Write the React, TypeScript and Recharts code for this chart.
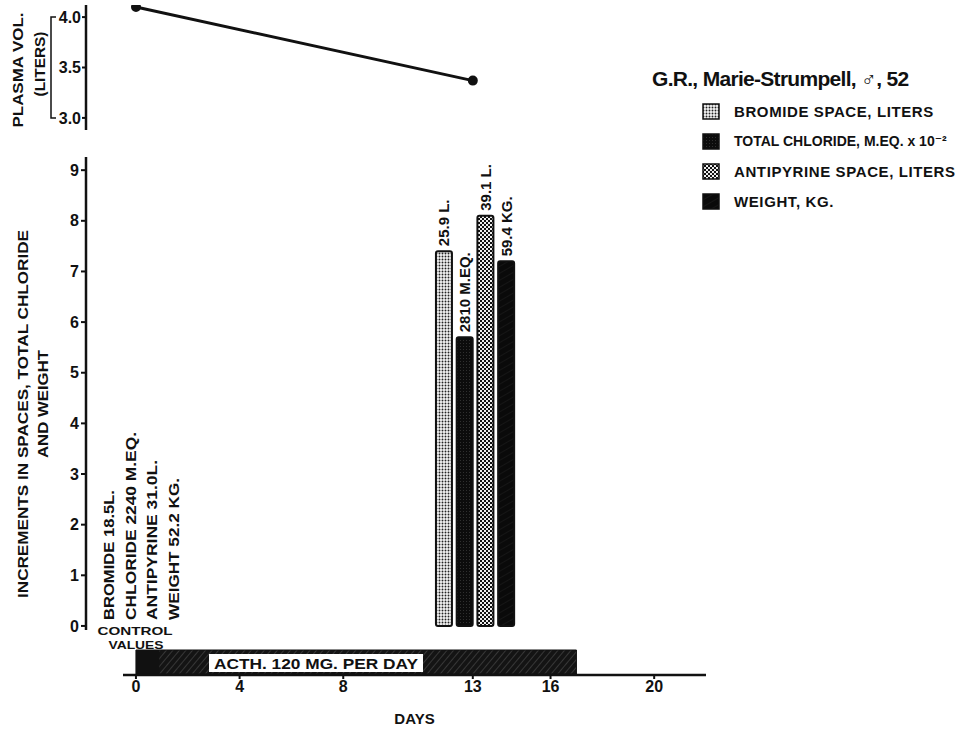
import React from "react";
import {
  ComposedChart,
  LineChart,
  Line,
  Bar,
  Cell,
  XAxis,
  YAxis,
  LabelList,
  Legend,
  ReferenceArea,
} from "recharts";

const FONT = '"Liberation Sans", "DejaVu Sans", Arial, sans-serif';
const INK = "#111";

// plasma volume, top panel
const plasmaDays = [0, 13];
const plasmaLiters = [4.1, 3.37];
const plasmaTicks = [3.0, 3.5, 4.0];

// increments over control values, day 13
const seriesNames = [
  "BROMIDE SPACE, LITERS",
  "TOTAL CHLORIDE, M.EQ. x 10⁻²",
  "ANTIPYRINE SPACE, LITERS",
  "WEIGHT, KG.",
];
const barDays = [11.9, 12.7, 13.5, 14.3];
const increments = [7.4, 5.7, 8.1, 7.2];
const valueLabels = ["25.9 L.", "2810 M.EQ.", "39.1 L.", "59.4 KG."];
const incrementTicks = [0, 1, 2, 3, 4, 5, 6, 7, 8, 9];

// control values
const controlLabels = ["BROMIDE 18.5L.", "CHLORIDE 2240 M.EQ.", "ANTIPYRINE 31.0L.", "WEIGHT 52.2 KG."];

// treatment timeline
const dayTicks = [0, 4, 8, 13, 16, 20];
const acthDays = [0, 17];
const acthSolidTo = 0.9;
const acthLabel = "ACTH. 120 MG. PER DAY";

const PATTERNS = ["pat-bromide", "pat-chloride", "pat-antipyrine", "pat-weight"];
const DAY_DOMAIN: [number, number] = [-1.93, 22];

const plasmaData = plasmaDays.map((day, i) => ({ day, liters: plasmaLiters[i] }));
const barData = barDays.map((day, i) => ({ day, value: increments[i], label: valueLabels[i] }));
const acthData = acthDays.map((day) => ({ day, on: 1 }));

const tickStyle = { fill: INK, fontSize: 16, fontWeight: 700, fontFamily: FONT };

function PatternDefs() {
  return (
    <defs>
      <pattern id="pat-bromide" width="3" height="3" patternUnits="userSpaceOnUse">
        <rect width="3" height="3" fill="#f4f4f4" />
        <circle cx="1.5" cy="1.5" r="0.95" fill="#222" />
      </pattern>
      <pattern id="pat-chloride" width="3" height="3" patternUnits="userSpaceOnUse">
        <rect width="3" height="3" fill="#0c0c0c" />
        <circle cx="1.5" cy="1.5" r="0.5" fill="#3a3a3a" />
      </pattern>
      <pattern id="pat-antipyrine" width="4" height="4" patternUnits="userSpaceOnUse">
        <rect width="4" height="4" fill="#eee" />
        <rect width="2" height="2" fill="#111" />
        <rect x="2" y="2" width="2" height="2" fill="#111" />
      </pattern>
      <pattern id="pat-weight" width="6" height="6" patternUnits="userSpaceOnUse" patternTransform="rotate(60)">
        <rect width="6" height="6" fill="#0a0a0a" />
        <line x1="0" y1="0" x2="0" y2="6" stroke="#222" strokeWidth="1" />
      </pattern>
      <pattern id="pat-acth" width="5" height="5" patternUnits="userSpaceOnUse" patternTransform="rotate(40)">
        <rect width="5" height="5" fill="#141414" />
        <line x1="0" y1="0" x2="0" y2="5" stroke="#5a5a5a" strokeWidth="1" />
      </pattern>
    </defs>
  );
}

function LegendBox() {
  return (
    <div style={{ fontFamily: FONT, color: INK }}>
      <div
        style={{
          fontSize: 21,
          fontWeight: 700,
          letterSpacing: -0.7,
          height: 34,
          lineHeight: "34px",
          whiteSpace: "nowrap",
        }}
      >
        G.R., Marie-Strumpell, ♂, 52
      </div>
      {seriesNames.map((name, i) => (
        <div key={name} style={{ display: "flex", alignItems: "center", height: 30, marginLeft: 50 }}>
          <svg width={18} height={17} style={{ flexShrink: 0 }}>
            <rect x={1} y={1} width={16} height={15} fill={`url(#${PATTERNS[i]})`} stroke={INK} strokeWidth={1.5} />
          </svg>
          <span
            style={{
              marginLeft: 14,
              fontSize: name.length > 25 ? 14 : 15,
              fontWeight: 700,
              letterSpacing: name.length > 25 ? 0 : 0.6,
              whiteSpace: "nowrap",
            }}
          >
            {name}
          </span>
        </div>
      ))}
    </div>
  );
}

const renderValueLabel = (props: any) => {
  const { x, y, width, value } = props;
  const cx = Number(x) + Number(width) / 2;
  const ty = Number(y) - 5;
  return (
    <text
      x={cx}
      y={ty}
      transform={`rotate(-90 ${cx} ${ty})`}
      textAnchor="start"
      dominantBaseline="central"
      fill={INK}
      fontSize={15}
      fontWeight={700}
      fontFamily={FONT}
    >
      {value}
    </text>
  );
};

export default function App() {
  const colX = [109, 131, 152, 174];
  const colLen = [130, 188, 160, 142];
  return (
    <div style={{ position: "absolute", left: 0, top: 0, width: 972, height: 732, background: "#fff" }}>
      <div style={{ position: "absolute", left: 0, top: 0 }}>
        <ComposedChart width={972} height={640} data={barData} margin={{ top: 157, right: 266, bottom: 10, left: 0 }}>
          <PatternDefs />
          <XAxis dataKey="day" type="number" domain={DAY_DOMAIN} hide allowDataOverflow />
          <YAxis
            type="number"
            domain={[-0.08, 9.26]}
            ticks={incrementTicks}
            interval={0}
            width={86}
            allowDataOverflow
            axisLine={{ stroke: INK, strokeWidth: 2.5 }}
            tickLine={{ stroke: INK, strokeWidth: 2 }}
            tickSize={5}
            tickMargin={2}
            tick={tickStyle}
          />
          <Legend
            layout="vertical"
            align="center"
            verticalAlign="middle"
            wrapperStyle={{ left: 652, top: 62, width: 320 }}
            content={() => <LegendBox />}
          />
          <Bar dataKey="value" barSize={16} radius={2} isAnimationActive={false}>
            {barData.map((d, i) => (
              <Cell key={d.label} fill={`url(#${PATTERNS[i]})`} stroke={INK} strokeWidth={2} />
            ))}
            <LabelList dataKey="label" content={renderValueLabel} />
          </Bar>
        </ComposedChart>
      </div>

      <div style={{ position: "absolute", left: 0, top: 0 }}>
        <LineChart width={972} height={140} data={plasmaData} margin={{ top: 5, right: 266, bottom: 10, left: 0 }}>
          <XAxis dataKey="day" type="number" domain={DAY_DOMAIN} hide allowDataOverflow />
          <YAxis
            type="number"
            domain={[2.88, 4.12]}
            ticks={plasmaTicks}
            interval={0}
            width={86}
            allowDataOverflow
            axisLine={{ stroke: INK, strokeWidth: 2.5 }}
            tickLine={{ stroke: INK, strokeWidth: 2 }}
            tickSize={4}
            tickMargin={1}
            tick={tickStyle}
            tickFormatter={(v: number) => v.toFixed(1)}
          />
          <Line
            dataKey="liters"
            stroke={INK}
            strokeWidth={3}
            dot={{ r: 3.5, fill: INK, stroke: INK }}
            isAnimationActive={false}
          />
        </LineChart>
      </div>

      <div style={{ position: "absolute", left: 0, top: 630 }}>
        <ComposedChart width={972} height={102} data={acthData} margin={{ top: 20, right: 266, bottom: 0, left: 123 }}>
          <XAxis
            dataKey="day"
            type="number"
            domain={[-0.5, 22]}
            ticks={dayTicks}
            interval={0}
            height={57}
            allowDataOverflow
            axisLine={{ stroke: INK, strokeWidth: 2.5 }}
            tickLine={{ stroke: INK, strokeWidth: 2 }}
            tickSize={4}
            tickMargin={2}
            tick={tickStyle}
            label={{ value: "DAYS", position: "insideBottom", offset: 8, fill: INK, fontSize: 15, fontWeight: 700, fontFamily: FONT }}
          />
          <YAxis hide type="number" domain={[0, 1]} allowDataOverflow />
          <Line dataKey="on" stroke="none" dot={false} isAnimationActive={false} />
          <ReferenceArea
            x1={acthDays[0]}
            x2={acthDays[1]}
            y1={0.04}
            y2={1}
            fill="url(#pat-acth)"
            fillOpacity={1}
            stroke={INK}
            strokeWidth={1}
            ifOverflow="visible"
          />
          <ReferenceArea x1={acthDays[0]} x2={acthSolidTo} y1={0.04} y2={1} fill={INK} fillOpacity={1} ifOverflow="visible" />
        </ComposedChart>
      </div>

      <svg
        width={972}
        height={732}
        style={{ position: "absolute", left: 0, top: 0, pointerEvents: "none" }}
        fontFamily={FONT}
        fontWeight={700}
        fill={INK}
      >
        <text transform="translate(22 414) rotate(-90)" textAnchor="middle" dominantBaseline="central" fontSize={15} textLength={368} lengthAdjust="spacingAndGlyphs">
          INCREMENTS IN SPACES, TOTAL CHLORIDE
        </text>
        <text transform="translate(42 404) rotate(-90)" textAnchor="middle" dominantBaseline="central" fontSize={15} textLength={108} lengthAdjust="spacingAndGlyphs">
          AND WEIGHT
        </text>
        <text transform="translate(18 70) rotate(-90)" textAnchor="middle" dominantBaseline="central" fontSize={14} textLength={115} lengthAdjust="spacingAndGlyphs">
          PLASMA VOL.
        </text>
        <text transform="translate(40 64) rotate(-90)" textAnchor="middle" dominantBaseline="central" fontSize={14} textLength={65} lengthAdjust="spacingAndGlyphs">
          (LITERS)
        </text>
        <path d="M56 17 H51 V118 H56" stroke={INK} strokeWidth={1.5} fill="none" />
        {controlLabels.map((t, i) => (
          <text
            key={t}
            transform={`translate(${colX[i]} 620) rotate(-90)`}
            textAnchor="start"
            dominantBaseline="central"
            fontSize={14}
            textLength={colLen[i]}
            lengthAdjust="spacingAndGlyphs"
          >
            {t}
          </text>
        ))}
        <text x={135} y={631} textAnchor="middle" dominantBaseline="central" fontSize={11.5} textLength={75} lengthAdjust="spacingAndGlyphs">
          CONTROL
        </text>
        <text x={136} y={645} textAnchor="middle" dominantBaseline="central" fontSize={11.5} textLength={55} lengthAdjust="spacingAndGlyphs">
          VALUES
        </text>
        <rect x={209} y={654} width={214} height={18} fill="#fff" />
        <text x={316} y={663.5} textAnchor="middle" dominantBaseline="central" fontSize={15} textLength={204} lengthAdjust="spacingAndGlyphs">
          {acthLabel}
        </text>
      </svg>
    </div>
  );
}
